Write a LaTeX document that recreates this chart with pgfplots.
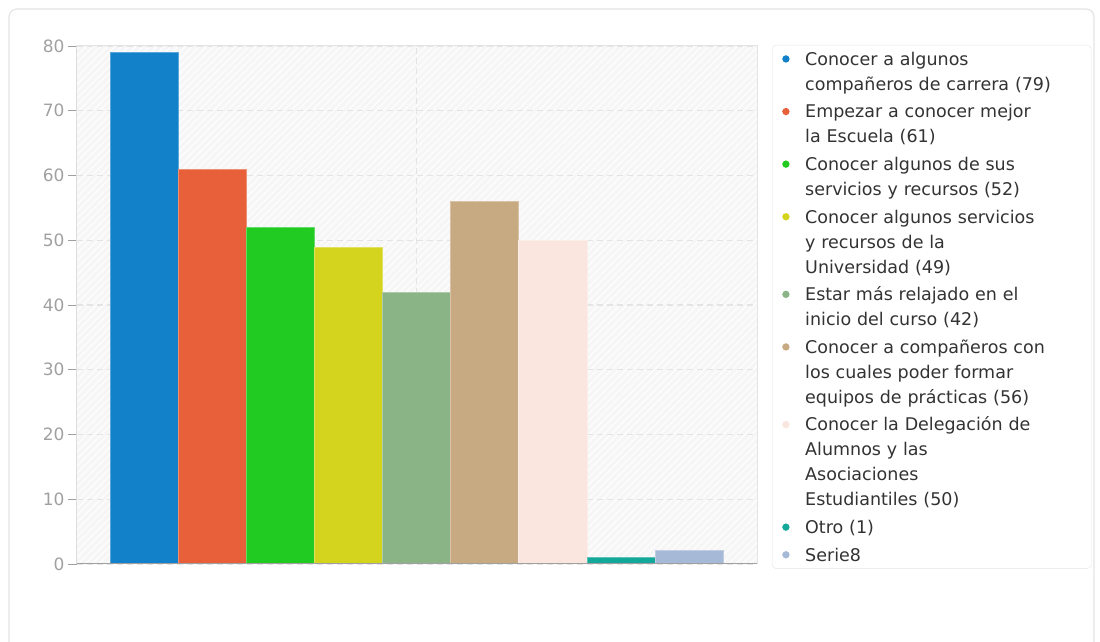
\documentclass[border=0pt]{standalone}
\usepackage{pgfplots}
\pgfplotsset{compat=1.18}
\usepackage{fontspec}
\setmainfont{DejaVu Sans}
\usetikzlibrary{patterns.meta}
\definecolor{c1}{HTML}{1381C9}
\definecolor{c2}{HTML}{E8603A}
\definecolor{c3}{HTML}{21CB22}
\definecolor{c4}{HTML}{D4D41E}
\definecolor{c5}{HTML}{8AB386}
\definecolor{c6}{HTML}{C8AA82}
\definecolor{c7}{HTML}{FAE6DE}
\definecolor{c8}{HTML}{14A89A}
\definecolor{c9}{HTML}{A6B9D6}
\definecolor{gridc}{HTML}{E4E4E4}
\definecolor{tickc}{HTML}{A0A0A0}
\definecolor{bgc}{HTML}{F6F6F6}
\definecolor{txt}{HTML}{333333}
\pgfplotsset{
  mybar/.style={ybar, bar width=1, bar shift=0pt, fill=#1, draw=#1!70!white,
    legend image code/.code={\path[fill=#1, draw=none] (0pt,-3.7pt) rectangle (7.5pt,3.8pt); \path[draw=none, fill=none] (0pt,-7.4pt) -- (23pt,-7.4pt);}},
}
\newcommand{\first}[1]{\addlegendentry[text height=20.1pt]{#1}}
\newcommand{\cont}[1]{\addlegendimage{empty legend}\addlegendentry{#1}}
\begin{document}
\begin{tikzpicture}
\begin{axis}[
  scale only axis, width=680pt, height=518pt,
  at={(0,0)}, anchor=south west,
  xmin=-0.985, xmax=9, ymin=0, ymax=80,
  ytick={0,10,...,80}, xtick={4}, xticklabels={},
  ymajorgrids, xmajorgrids,
  grid style={draw=gridc, line width=1.2pt, dash pattern=on 6pt off 4pt},
  axis line style={draw=gridc, line width=1pt},
  tick align=outside, tick pos=left, major tick length=9pt,
  y tick style={draw=tickc, line width=0.8pt},
  x tick style={draw=none},
  yticklabel style={font=\fontsize{17}{20}\selectfont, text=tickc},
  /pgf/number format/assume math mode=true,
  axis background/.style={fill=bgc, postaction={pattern={Lines[angle=45,distance=5pt,line width=1pt]}, pattern color=white}},
  legend style={at={(1,1)}, anchor=north west, xshift=15pt, yshift=1pt,
    draw=gridc, fill=white, rounded corners=4pt, inner xsep=10pt, inner ysep=0pt,
    row sep=0pt,
    font=\fontsize{17.5}{25}\selectfont, text=txt,
    nodes={inner sep=0pt, text height=17.5pt, text depth=7.5pt},
    /tikz/every even column/.append style={nodes={text width=276pt}}},
  legend cell align=left,
]
\addplot[mybar=c1] coordinates {(0,79)};
\first{Conocer a algunos}\cont{compañeros de carrera (79)}
\addplot[mybar=c2] coordinates {(1,61)};
\first{Empezar a conocer mejor}\cont{la Escuela (61)}
\addplot[mybar=c3] coordinates {(2,52)};
\first{Conocer algunos de sus}\cont{servicios y recursos (52)}
\addplot[mybar=c4] coordinates {(3,49)};
\first{Conocer algunos servicios}\cont{y recursos de la}\cont{Universidad (49)}
\addplot[mybar=c5] coordinates {(4,42)};
\first{Estar más relajado en el}\cont{inicio del curso (42)}
\addplot[mybar=c6] coordinates {(5,56)};
\first{Conocer a compañeros con}\cont{los cuales poder formar}\cont{equipos de prácticas (56)}
\addplot[mybar=c7] coordinates {(6,50)};
\first{Conocer la Delegación de}\cont{Alumnos y las}\cont{Asociaciones}\cont{Estudiantiles (50)}
\addplot[mybar=c8] coordinates {(7,1)};
\first{Otro (1)}
\addplot[mybar=c9] coordinates {(8,2.2)};
\first{Serie8}
\draw[tickc, line width=2pt] (rel axis cs:0,0) -- (rel axis cs:1,0);
\draw[tickc!80!white, line width=1pt] (rel axis cs:0,0) -- (rel axis cs:0,1);
\end{axis}
\draw[gridc, line width=1.2pt, rounded corners=8pt] (-68pt,-100pt) -- (-68pt,555pt) -- (1017pt,555pt) -- (1017pt,-100pt);
\pgfresetboundingbox
\path[use as bounding box] (-77pt,-78pt) rectangle (1023pt,564pt);
\end{tikzpicture}
\end{document}
